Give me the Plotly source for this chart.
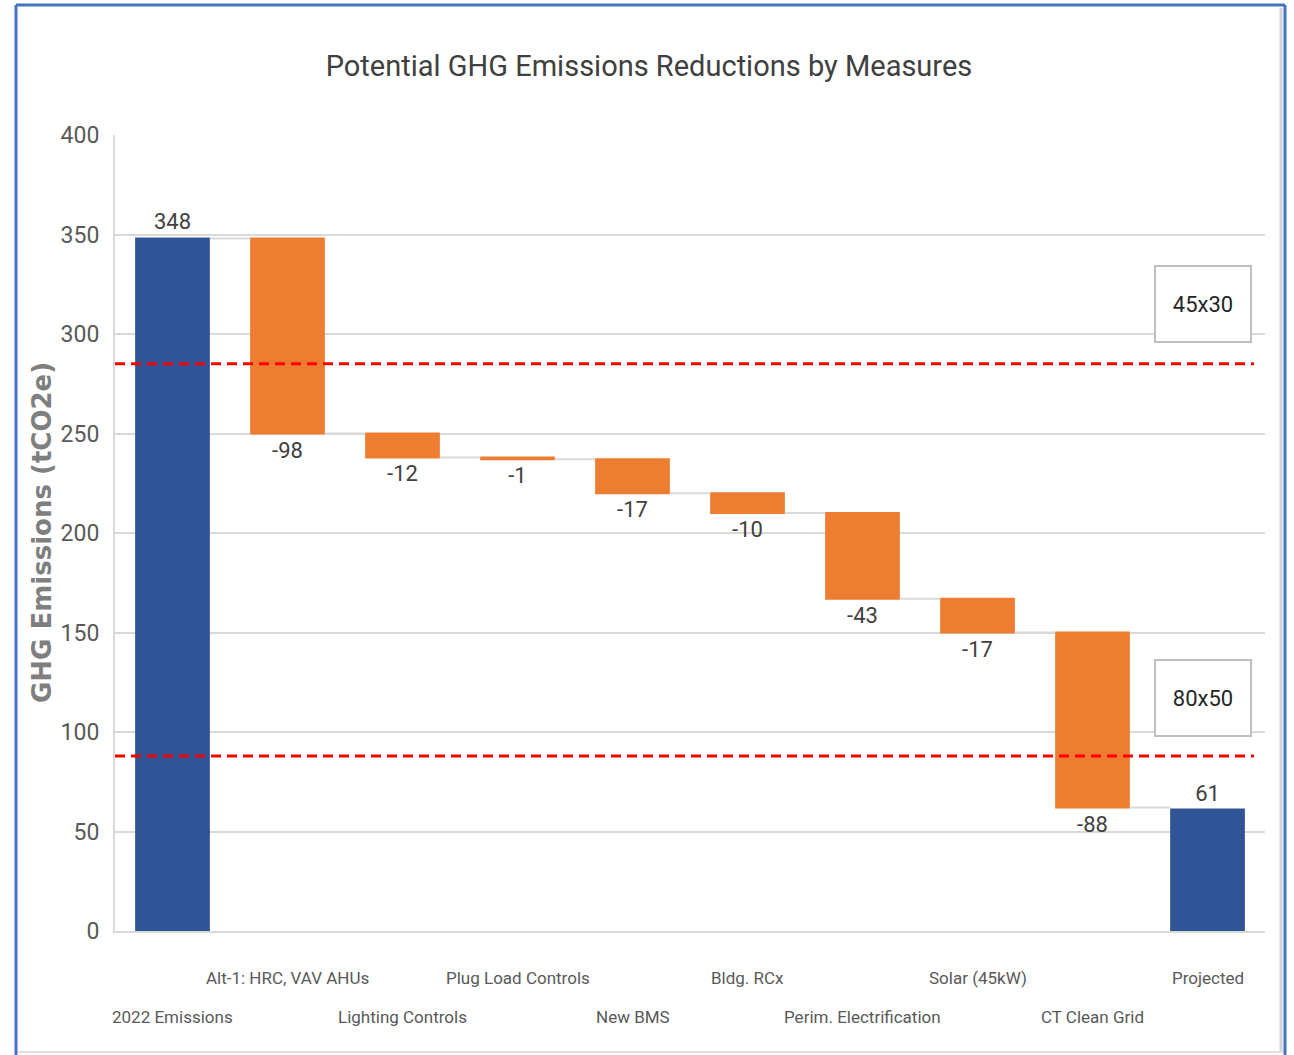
import plotly.graph_objects as go

categories = ["2022 Emissions", "Alt-1: HRC, VAV AHUs", "Lighting Controls", "Plug Load Controls",
              "New BMS", "Bldg. RCx", "Perim. Electrification", "Solar (45kW)", "CT Clean Grid", "Projected"]
values = [348, -98, -12, -1, -17, -10, -43, -17, -88, 61]
measures = ["absolute"] + ["relative"] * 8 + ["absolute"]
labels = ["348", "-98", "-12", "-1", "-17", "-10", "-43", "-17", "-88", "61"]
targets = [285, 88]
target_labels = ["45x30", "80x50"]
y_ticks = [0, 50, 100, 150, 200, 250, 300, 350, 400]

FONT = "Roboto, Liberation Sans Narrow, sans-serif"
GRID = "#d9d9d9"

W, H = 1294, 1055
PL, PT, PW, PH = 115, 135, 1150, 796


def xp(sx):
    return (sx - PL) / PW


def yp(sy):
    return (PT + PH - sy) / PH


fig = go.Figure()
fig.add_trace(go.Waterfall(
    x=categories, y=values, measure=measures,
    text=labels, textinfo="text", textposition="outside",
    textfont=dict(family=FONT, size=22, color="#404040"),
    decreasing=dict(marker=dict(color="#ED7D31")),
    increasing=dict(marker=dict(color="#ED7D31")),
    totals=dict(marker=dict(color="#2F5597")),
    connector=dict(line=dict(color=GRID, width=2)),
    cliponaxis=False, showlegend=False,
))

fig.update_layout(
    width=W, height=H,
    margin=dict(l=PL, r=W - PL - PW, t=PT, b=H - PT - PH),
    paper_bgcolor="white", plot_bgcolor="white",
    waterfallgap=0.35,
    title=dict(text="Potential GHG Emissions Reductions by Measures",
               x=649 / W, xref="container", xanchor="center",
               y=1 - 66 / H, yref="container", yanchor="middle",
               font=dict(family=FONT, size=29, color="#404040")),
    font=dict(family=FONT, color="#595959"),
)
fig.update_yaxes(range=[0, 400], tickvals=y_ticks, showgrid=True, gridcolor=GRID, gridwidth=2,
                 showline=True, linecolor=GRID, linewidth=2, zeroline=False,
                 tickfont=dict(family=FONT, size=23, color="#595959"),
                 ticks="", ticklabelstandoff=9)
fig.update_xaxes(showticklabels=False, showline=True, linecolor=GRID, linewidth=2,
                 showgrid=False, range=[-0.5, len(categories) - 0.5])

# staggered category labels (two rows, like the original)
for i, c in enumerate(categories):
    fig.add_annotation(x=c, xref="x", y=yp(978) if i % 2 else yp(1017),
                       yref="paper", text=c, showarrow=False, yanchor="middle",
                       font=dict(family=FONT, size=17, color="#595959"))

# target lines
for t in targets:
    fig.add_shape(type="line", xref="paper", yref="y", x0=0, x1=xp(1254), y0=t, y1=t,
                  line=dict(color="#FF0000", width=3, dash="10px,6px"))

# target label boxes
for lab, sy in zip(target_labels, [304, 698]):
    fig.add_annotation(x=xp(1203), xref="paper", y=yp(sy), yref="paper", text=lab,
                       xanchor="center", yanchor="middle",
                       showarrow=False, width=92, height=72, bordercolor="#bfbfbf",
                       borderwidth=2, bgcolor="white",
                       font=dict(family=FONT, size=22, color="#262626"))

# y-axis title
fig.add_annotation(x=xp(42), xref="paper", y=0.5, yref="paper", xanchor="center", yanchor="middle",
                   text="<b>GHG Emissions (tCO2e)</b>", textangle=-90, showarrow=False,
                   font=dict(family="DejaVu Sans", size=26, color="#7f7f7f"))

# chart frame: blue top/left/right, light grey bottom and inner right shadow
frame = [
    ((16, 5), (1285, 5), "#4472C4", 3),
    ((16, 5), (16, 1055), "#4472C4", 3),
    ((1285, 5), (1285, 1055), "#4472C4", 3),
    ((1281, 8), (1281, 1052), "#d4d4d4", 3),
    ((18, 1052), (1283, 1052), "#e0e0e0", 2),
]
for (ax, ay), (bx, by), col, wd in frame:
    fig.add_shape(type="line", xref="paper", yref="paper",
                  x0=xp(ax), y0=yp(ay), x1=xp(bx), y1=yp(by),
                  line=dict(color=col, width=wd), layer="below")

fig.write_html("out.html", config={"displayModeBar": False},
               post_script="document.body.style.margin='0px';document.body.style.overflow='hidden';")
